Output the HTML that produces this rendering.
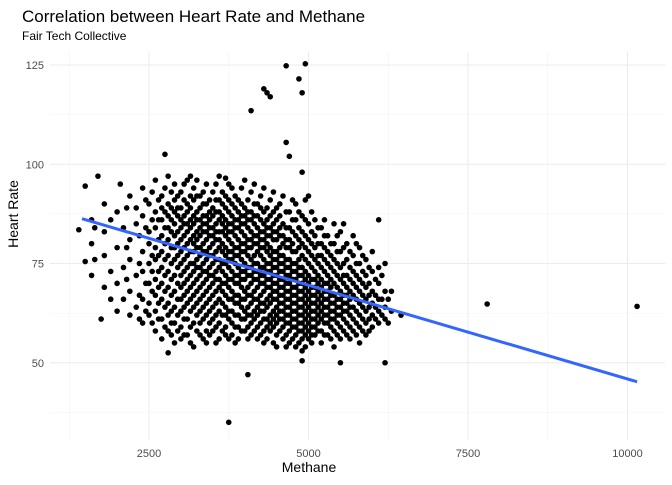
<!DOCTYPE html>
<html><head><meta charset="utf-8"><style>
body{margin:0;background:#fff;font-family:"Liberation Sans",sans-serif}
svg text{font-family:"Liberation Sans",sans-serif}
</style></head><body>
<svg id="chart" width="672" height="480">
<text x="22" y="22" font-size="17" fill="#000">Correlation between Heart Rate and Methane</text>
<text x="22" y="40" font-size="12" fill="#000">Fair Tech Collective</text>
<g id="grid"></g>
<g id="points"></g>
<g id="trend"></g>
<g id="axes"></g>
<text x="309" y="472" font-size="14" text-anchor="middle">Methane</text>
<text transform="translate(18,214) rotate(-90)" font-size="14" text-anchor="middle">Heart Rate</text>
</svg>
<script>
const xTicks=[2500,5000,7500,10000];
const yTicks=[50,75,100,125];
const trendX=[1450,10150];
const trendY=[86.3,45.2];
const outliers=[[3750,35],[4050,47],[2800,52.5],[6200,50],[5500,50],[4900,50.5],[7800,64.8],[10150,64.2],[4300,119],[4350,118],[4400,117],[4100,113.5],[4650,124.8],[4950,125.3],[4850,121.5],[4900,118],[4650,105.5],[4900,98],[4700,102],[2750,102.5],[1700,97],[1500,94.5],[1750,61],[1400,83.5],[1500,75.5],[6450,62],[6100,86],[2050,95],[3150,97],[3700,96.5]];
const columns=[
[1600,[86,80,72]],[1800,[90,83,77,69]],[2000,[88,79,70,63]],[2100,[84,74,66]],
[2200,[92,81,76,68,62]],[2300,[89,85,72,64]],[2400,[94,87,78,73,66,60]],
[2500,[90,83,80,75,70,65,62]],[2600,[96,88,84,79,76,71,67,63,58]],
[2700,[92,89,86,82,78,74,70,66,61,56]],[2800,[97,90,87,84,81,77,73,69,65,62,58]],
[2900,[95,91,88,85,82,79,76,72,68,64,60,55]],[3000,[93,89,86,84,81,78,75,72,69,66,63,59,56]],
[3100,[96,90,88,85,83,80,77,74,71,68,65,61,57]],[3200,[94,91,87,85,82,80,78,75,73,70,67,64,60,54]],
[3300,[92,89,86,84,82,79,77,74,72,69,66,63,60,57]],[3400,[95,90,87,85,83,81,78,76,73,71,68,65,62,58,55]],
[3500,[93,89,87,84,82,80,77,75,72,70,67,64,61,58]],[3600,[97,91,88,86,83,81,79,76,74,71,69,66,63,60,56]],
[3700,[92,89,86,84,82,79,77,75,72,70,67,64,62,59,57]],[3800,[94,90,87,85,83,80,78,76,73,71,68,66,63,60,57]],
[3900,[91,88,86,84,81,79,77,74,72,70,67,65,62,59,56]],[4000,[96,89,87,85,82,80,78,75,73,71,68,66,63,61,58]],
[4100,[93,88,86,83,81,79,76,74,72,70,67,65,62,60,57]],[4200,[90,87,84,82,80,78,75,73,71,69,66,64,62,59,56]],
[4300,[94,88,85,83,81,79,76,74,72,70,68,65,63,61,58,55]],[4400,[91,87,84,82,79,77,75,73,71,69,67,65,62,60,58]],
[4500,[89,86,83,81,78,76,74,72,70,68,66,64,62,60,57,54]],[4600,[92,85,82,80,77,75,73,71,69,67,65,63,61,59,56]],
[4700,[88,84,81,79,76,74,72,70,68,66,64,62,60,58,55]],[4800,[90,86,82,78,75,73,71,69,67,65,63,61,59,57,54]],
[4900,[87,83,80,77,74,72,70,68,66,64,62,60,58,56,53]],[5000,[92,85,81,78,75,72,70,68,66,64,62,60,58,56]],
[5100,[86,82,79,76,73,71,69,67,65,63,61,59,57]],[5200,[84,80,77,74,71,69,67,65,63,61,58,55]],
[5300,[82,78,75,72,70,68,66,64,62,60,57]],[5400,[85,80,76,73,70,67,65,63,61,58,54]],
[5500,[83,78,74,71,68,66,64,62,59,56]],[5600,[80,76,72,69,67,65,63,60,57]],
[5700,[82,77,73,70,67,64,61,58]],[5800,[79,75,71,68,65,62,59,55]],[5900,[76,72,69,66,63,60,57]],
[6000,[78,73,68,65,62,59]],[6100,[74,70,66,63,60]],[6200,[75,68,64,61]],[6300,[68,63]]
];
const columnsOffset=[
[1650,[84,76]],[1900,[86,73,66]],[2150,[89,79,71]],[2350,[82,75,67,61]],[2450,[91,84,70,63]],
[2550,[93,86,77,73,68,60]],[2650,[91,86,81,77,73,69,65,61]],[2750,[94,88,84,80,76,72,68,64,59]],
[2850,[93,89,86,83,79,75,71,67,63,60,57]],[2950,[92,89,87,83,80,77,74,70,66,62,58]],
[3050,[95,91,87,85,82,79,76,73,70,67,64,61,57]],[3150,[92,89,86,84,81,78,75,72,69,66,63,59,55]],
[3250,[96,92,88,86,83,81,79,76,74,71,68,65,62,58]],[3350,[93,90,87,85,83,80,78,75,73,70,67,64,61,56]],
[3450,[91,88,86,84,82,79,77,74,72,69,66,63,60,57]],[3550,[95,91,88,85,83,81,78,76,73,71,68,65,62,59,55]],
[3650,[93,90,87,85,83,80,78,75,73,70,68,65,62,58]],[3750,[95,91,88,85,83,81,78,76,74,71,69,66,63,61,56]],
[3850,[92,89,86,84,82,79,77,75,72,70,67,65,62,59,55]],[3950,[94,90,87,85,83,80,78,76,73,71,69,66,64,61,58]],
[4050,[91,88,86,84,81,79,77,74,72,69,67,64,62,59,56]],[4150,[95,90,87,85,82,80,77,75,73,71,68,66,63,61,58]],
[4250,[92,89,86,83,81,79,77,74,72,70,67,65,63,60,57]],[4350,[89,86,84,82,80,78,75,73,71,69,66,64,61,59,56]],
[4450,[93,88,85,83,81,78,76,74,72,70,68,66,63,61,59,55]],[4550,[90,87,84,82,79,77,75,73,71,69,67,65,63,61,58]],
[4650,[88,84,81,79,76,74,72,70,68,66,64,62,60,57,54]],[4750,[91,86,83,80,78,75,73,71,69,67,65,63,61,59,56]],
[4850,[88,84,81,79,76,74,72,70,68,66,64,62,60,58,55]],[4950,[91,86,82,79,76,73,71,69,67,65,63,61,59,57,54]],
[5050,[88,83,80,77,74,71,69,67,65,63,61,59,57,55]],[5150,[84,80,77,75,72,70,68,66,64,62,60,58]],
[5250,[86,82,79,76,73,70,68,66,64,62,60,57]],[5350,[80,77,74,71,69,67,65,63,61,59,56]],
[5450,[82,78,75,72,69,66,64,62,60,57]],[5550,[85,79,75,72,70,67,65,63,61,58]],
[5650,[78,74,71,68,66,64,62,59,56]],[5750,[80,75,72,69,66,63,60,57]],[5850,[77,73,70,67,64,61,58]],
[5950,[74,70,67,64,61,58]],[6050,[71,67,64,61]],[6150,[72,66,62]],[6250,[66,60]]
];
const NS="http://www.w3.org/2000/svg";
const L=50,R=665,T=52,B=440;
function xs(v){return 149+(v-2500)*0.0638;}
function ys(v){return 65+(125-v)*3.97;}
function mk(tag,attrs,parent){const e=document.createElementNS(NS,tag);for(const k in attrs)e.setAttribute(k,attrs[k]);parent.appendChild(e);return e;}
const grid=document.getElementById('grid'),axes=document.getElementById('axes');
xTicks.forEach(t=>{
  const g=mk('line',{x1:xs(t),x2:xs(t),y1:T,y2:B,stroke:'#ebebeb','stroke-width':1},grid);
  
  
  const m=mk('line',{x1:xs(t-1250),x2:xs(t-1250),y1:T,y2:B,stroke:'#f3f3f3','stroke-width':0.6},grid);
  
  
  const tx=mk('text',{x:xs(t),y:457,'font-size':11,fill:'#4d4d4d','text-anchor':'middle'},axes);
  tx.textContent=t;
  
  
});
const mm=mk('line',{x1:xs(11250),x2:xs(11250),y1:T,y2:B,stroke:'#f3f3f3','stroke-width':0.6},grid);


yTicks.forEach(t=>{
  const g=mk('line',{x1:L,x2:R,y1:ys(t),y2:ys(t),stroke:'#ebebeb','stroke-width':1},grid);
  
  
  const m=mk('line',{x1:L,x2:R,y1:ys(t-12.5),y2:ys(t-12.5),stroke:'#f3f3f3','stroke-width':0.6},grid);
  
  
  const tx=mk('text',{x:44,y:ys(t)+4,'font-size':11,fill:'#4d4d4d','text-anchor':'end'},axes);
  tx.textContent=t;
  
  
});
const pts=document.getElementById('points');
const all=outliers.slice();
columns.forEach(c=>c[1].forEach(y=>all.push([c[0],y])));
columnsOffset.forEach(c=>c[1].forEach(y=>all.push([c[0],y])));
all.forEach(p=>{
  const c=mk('circle',{cx:xs(p[0]),cy:ys(p[1]),r:2.8,fill:'#000'},pts);
  
  
});
const ln=mk('line',{x1:xs(trendX[0]),y1:ys(trendY[0]),x2:xs(trendX[1]),y2:ys(trendY[1]),stroke:'#3366ff','stroke-width':3},document.getElementById('trend'));


</script>
</body></html>
